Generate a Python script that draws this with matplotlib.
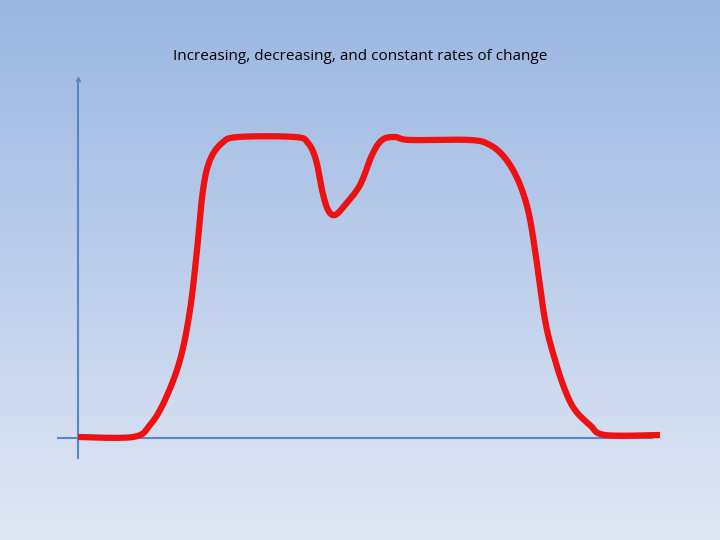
import numpy as np
import matplotlib
matplotlib.use("Agg")
import matplotlib.pyplot as plt

title = "Increasing, decreasing, and constant rates of change"
curve_x = [78,133,150,165,180,190,197,203,210,222,238,295,308,316,322,328,335,345,360,372,382,395,410,470,490,505,518,528,535,545,555,565,575,590,605,660]
curve_y = [437,437,425,400,360,310,250,190,160,143,137,137,143,160,190,210,215,205,185,155,140,137,140,140,145,158,180,210,250,320,360,390,410,425,435,435]

def smooth(xs, ys, n=12):
    p = np.column_stack([xs, ys]).astype(float)
    p = np.vstack([p[0], p, p[-1]])
    out = []
    for i in range(1, len(p) - 2):
        p0, p1, p2, p3 = p[i-1], p[i], p[i+1], p[i+2]
        for s in np.linspace(0, 1, n, endpoint=False):
            out.append(0.5 * ((2*p1) + (-p0+p2)*s + (2*p0-5*p1+4*p2-p3)*s**2 + (-p0+3*p1-3*p2+p3)*s**3))
    out.append(p[-2])
    out = np.array(out)
    return out[:, 0], out[:, 1]

fig = plt.figure(figsize=(7.2, 5.4), dpi=100)
ax = fig.add_axes([0, 0, 1, 1])
ax.set_xlim(0, 720)
ax.set_ylim(540, 0)
ax.axis("off")

top = np.array([0x9a, 0xb6, 0xe2]) / 255
bot = np.array([0xe0, 0xe7, 0xf4]) / 255
t = np.linspace(0, 1, 256)[:, None, None]
grad = top * (1 - t) + bot * t
ax.imshow(grad, extent=[0, 720, 540, 0], aspect="auto", zorder=0)

axis_col = "#5a86c8"
ax.plot([78, 78], [458, 80], color=axis_col, lw=1.5, zorder=1)
ax.plot([58, 652], [438, 438], color=axis_col, lw=1.5, zorder=1)
ax.plot([78], [79], marker="^", color=axis_col, ms=3, zorder=1)

sx, sy = smooth(curve_x, curve_y)
ax.plot(sx, sy, color="#ee1111", lw=4.5, solid_capstyle="butt",
        solid_joinstyle="round", zorder=2)

ax.text(360, 57, title, ha="center", va="center", fontsize=11,
        family=["Open Sans", "DejaVu Sans"], color="black")

fig.savefig("out.png", dpi=100)
